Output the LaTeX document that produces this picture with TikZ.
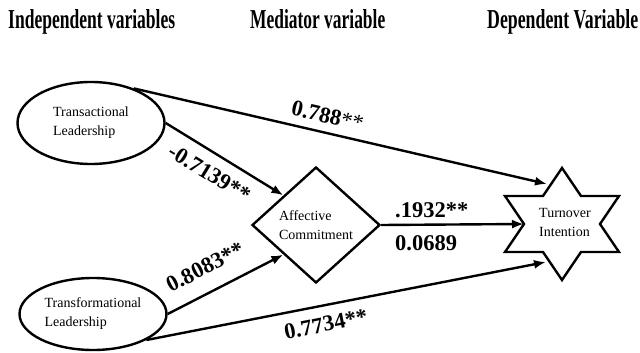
\documentclass[tikz,border=0pt]{standalone}
\usepackage{graphicx}
\usepackage{fontspec}
\setmainfont{Liberation Serif}
\usetikzlibrary{shapes.geometric,arrows.meta}
\begin{document}
\begin{tikzpicture}[x=1pt,y=-1pt,
  shp/.style={draw, line width=2.4pt, inner sep=0pt, font=\fontsize{14}{19}\selectfont, align=left},
  conn/.style={line width=2.4pt, -{Latex[length=12pt,width=9pt]}},
  lbl/.style={font=\fontsize{22.5}{24}\selectfont\bfseries, inner sep=0pt},
  head/.style={anchor=base west, inner sep=0pt}]
\useasboundingbox (0,0) rectangle (640,353);
% headings
\node[head] (h1) at (8,29) {\resizebox{167pt}{19pt}{\bfseries Independent variables}};
\node[head] (h2) at (250,29) {\resizebox{135pt}{19pt}{\bfseries Mediator variable}};
\node[head] (h3) at (487,29) {\resizebox{151pt}{19pt}{\bfseries Dependent Variable}};
% shapes
\node[shp, ellipse, minimum width=147pt, minimum height=82pt] (tl) at (91,123) {Transactional\\Leadership};
\node[shp, ellipse, minimum width=147pt, minimum height=72pt] (tr) at (93,314) {Transformational\\Leadership};
\node[shp, diamond, minimum width=128pt, minimum height=116pt] (ac) at (316,225) {Affective\\Commitment};
\node[font=\fontsize{14}{19}\selectfont, align=left, inner sep=0pt] (ti) at (565,222) {Turnover\\Intention};
\begin{scope}[shift={(562,224)}]
\draw[line width=2.4pt, line join=miter] (0,-56) -- (19,-28) -- (57,-28) -- (38,0) -- (57,28) -- (19,28) -- (0,56) -- (-19,28) -- (-57,28) -- (-38,0) -- (-57,-28) -- (-19,-28) -- cycle;
\coordinate (tA) at (-15,-40);
\coordinate (tM) at (-38,0);
\coordinate (tD) at (-16,38);
\end{scope}
% connectors
\draw[conn] (tl.39) -- node[lbl, sloped, above=8pt, pos=0.46] (l1) {0.788{\mdseries**}} (tA);
\draw[conn] (tl.east) -- node[lbl, sloped, below=11pt, pos=0.46] (l2) {-0.7139**} (ac.north west);
\draw[conn] (tr.east) -- node[lbl, sloped, above=16pt, pos=0.42] (l3) {0.8083**} (ac.south west);
\draw[conn] (tr.-26) -- node[lbl, sloped, below=10pt, pos=0.44] (l4) {0.7734**} (tD);
\draw[conn] (ac.east) -- (tM);
\node[lbl, anchor=base west] (l5) at (395,217) {.1932**};
\node[lbl, anchor=base west] (l6) at (395,250) {0.0689};
\end{tikzpicture}
\end{document}
